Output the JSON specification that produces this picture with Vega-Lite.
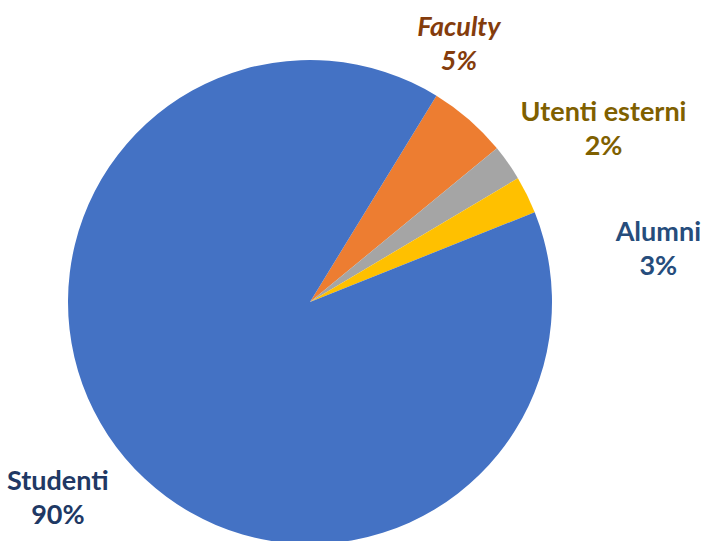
{
  "$schema": "https://vega.github.io/schema/vega-lite/v6.json",
  "width": 620,
  "height": 478,
  "autosize": {"type": "none"},
  "padding": {"left": 0, "top": 63, "right": 84, "bottom": 0},
  "background": "white",
  "config": {"view": {"stroke": null}},
  "data": {
    "values": [
      {"categoria": "Faculty", "quota": 5.3, "etichetta": "Faculty\n5%", "ordine": 1},
      {"categoria": "Utenti esterni", "quota": 2.4, "etichetta": "Utenti esterni\n2%", "ordine": 2},
      {"categoria": "Alumni", "quota": 2.5, "etichetta": "Alumni\n3%", "ordine": 3},
      {"categoria": "Studenti", "quota": 89.8, "etichetta": "Studenti\n90%", "ordine": 4}
    ]
  },
  "encoding": {
    "theta": {"field": "quota", "type": "quantitative", "stack": true, "scale": {"range": [0.5498, 6.833]}},
    "order": {"field": "ordine", "type": "quantitative"}
  },
  "layer": [
    {
      "mark": {"type": "arc", "outerRadius": 242, "strokeWidth": 0},
      "encoding": {
        "color": {
          "field": "categoria",
          "type": "nominal",
          "scale": {
            "domain": ["Faculty", "Utenti esterni", "Alumni", "Studenti"],
            "range": ["#ED7D31", "#A5A5A5", "#FFC000", "#4472C4"]
          },
          "legend": null
        }
      }
    },
    {
      "mark": {"type": "text", "radius": 312, "thetaOffset": -0.219, "font": "Lato", "fontSize": 27, "fontWeight": "bold", "fontStyle": "italic", "lineBreak": "\n", "lineHeight": 34, "align": "center", "baseline": "middle"},
      "encoding": {
        "text": {"condition": {"test": "datum.categoria === 'Faculty'", "field": "etichetta"}, "value": ""},
        "color": {"value": "#843C0C"}
      }
    },
    {
      "mark": {"type": "text", "radius": 349, "thetaOffset": 0.041, "font": "Lato", "fontSize": 27, "fontWeight": "bold", "lineBreak": "\n", "lineHeight": 34, "align": "center", "baseline": "middle"},
      "encoding": {
        "text": {"condition": {"test": "datum.categoria === 'Utenti esterni'", "field": "etichetta"}, "value": ""},
        "color": {"value": "#7F6000"}
      }
    },
    {
      "mark": {"type": "text", "radius": 355, "thetaOffset": 0.2644, "font": "Lato", "fontSize": 27, "fontWeight": "bold", "lineBreak": "\n", "lineHeight": 34, "align": "center", "baseline": "middle"},
      "encoding": {
        "text": {"condition": {"test": "datum.categoria === 'Alumni'", "field": "etichetta"}, "value": ""},
        "color": {"value": "#264D7C"}
      }
    },
    {
      "mark": {"type": "text", "radius": 310, "thetaOffset": 0.0796, "font": "Lato", "fontSize": 27, "fontWeight": "bold", "lineBreak": "\n", "lineHeight": 34, "align": "center", "baseline": "middle"},
      "encoding": {
        "text": {"condition": {"test": "datum.categoria === 'Studenti'", "field": "etichetta"}, "value": ""},
        "color": {"value": "#203864"}
      }
    }
  ]
}
